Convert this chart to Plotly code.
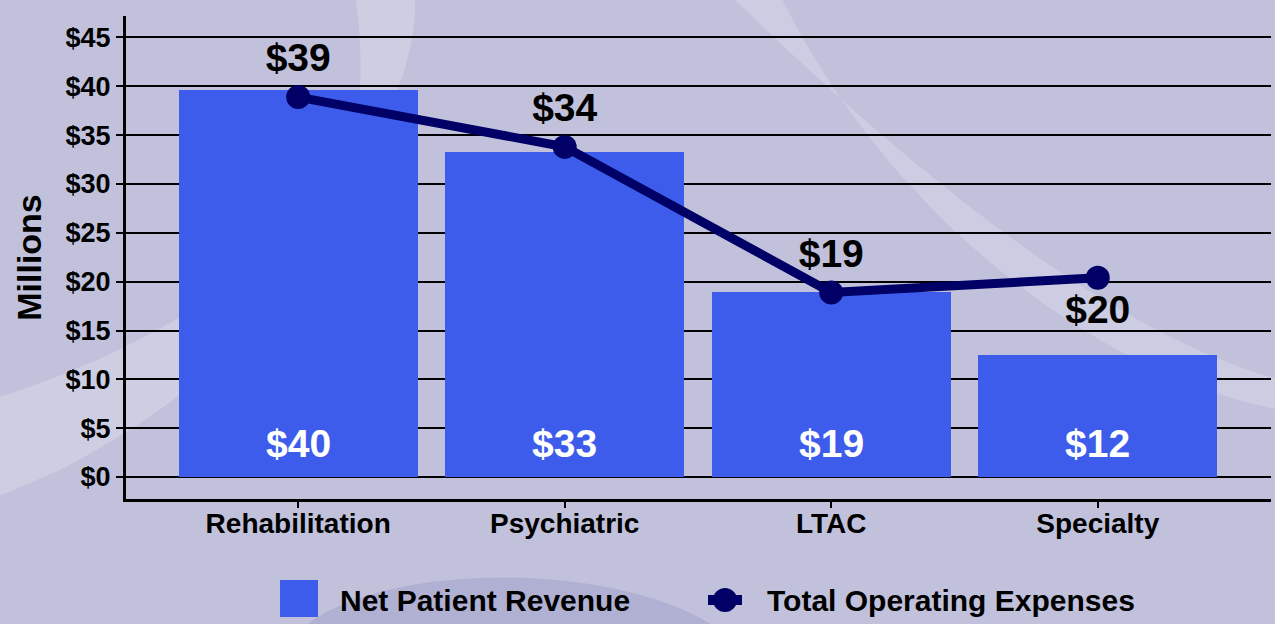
import plotly.graph_objects as go

categories = ["Rehabilitation", "Psychiatric", "LTAC", "Specialty"]
net_revenue = [39.6, 33.3, 18.9, 12.5]
net_revenue_labels = ["$40", "$33", "$19", "$12"]
operating_expenses = [38.9, 33.8, 18.9, 20.4]
expense_labels = ["$39", "$34", "$19", "$20"]
expense_label_pos = ["top center", "top center", "top center", "bottom center"]

FONT = "Liberation Sans"
BG = "#C1C1DB"
BAR = "#3D5CEB"
LINE = "#000066"

# plot area in pixels: x 126..1271, y 16..499
L, R, T, B = 126, 4, 16, 125
W, H = 1275 - L - R, 624 - T - B


def px(x):
    return (x - L) / W


def py(y):
    return (624 - B - y) / H


fig = go.Figure()

fig.add_trace(
    go.Bar(
        x=categories, y=net_revenue,
        marker=dict(color=BAR, line=dict(width=0)),
        width=0.897,
        name="Net Patient Revenue",
        showlegend=False,
        hoverinfo="skip",
    )
)

fig.add_trace(
    go.Scatter(
        x=categories, y=operating_expenses,
        mode="lines+markers+text",
        line=dict(color=LINE, width=9),
        marker=dict(color=LINE, size=24),
        text=expense_labels,
        textposition=expense_label_pos,
        textfont=dict(family=FONT, size=39, color="black", weight="bold"),
        name="Total Operating Expenses",
        showlegend=False,
        hoverinfo="skip",
        cliponaxis=False,
    )
)

# soft background swooshes
shapes = [
    dict(type="path", xref="paper", yref="paper", layer="below",
         path=f"M {px(355)},{py(-5)} C {px(380)},{py(150)} {px(330)},{py(330)} {px(60)},{py(470)} "
              f"L {px(-10)},{py(500)} L {px(-10)},{py(400)} C {px(250)},{py(320)} {px(420)},{py(150)} {px(415)},{py(-5)} Z",
         fillcolor="rgba(225,225,240,0.4)", line=dict(width=0)),
    dict(type="path", xref="paper", yref="paper", layer="below",
         path=f"M {px(730)},{py(-5)} C {px(900)},{py(160)} {px(1100)},{py(330)} {px(1280)},{py(380)} "
              f"L {px(1280)},{py(410)} C {px(1080)},{py(370)} {px(880)},{py(200)} {px(780)},{py(-5)} Z",
         fillcolor="rgba(225,225,240,0.35)", line=dict(width=0)),
    dict(type="path", xref="paper", yref="paper", layer="below",
         path=f"M {px(300)},{py(630)} C {px(380)},{py(560)} {px(620)},{py(560)} {px(720)},{py(630)} Z",
         fillcolor="rgba(150,150,200,0.4)", line=dict(width=0)),
]

# legend drawn by hand to match the large swatches
shapes += [
    dict(type="rect", xref="paper", yref="paper",
         x0=px(280), x1=px(318), y0=py(617), y1=py(580),
         fillcolor=BAR, line=dict(width=0)),
    dict(type="line", xref="paper", yref="paper",
         x0=px(708), x1=px(742), y0=py(600), y1=py(600),
         line=dict(color=LINE, width=10)),
    dict(type="circle", xref="paper", yref="paper",
         x0=px(713), x1=px(737), y0=py(612), y1=py(588),
         fillcolor=LINE, line=dict(width=0)),
]

annotations = [
    dict(text="Net Patient Revenue", xref="paper", yref="paper",
         x=px(338), y=py(600), xanchor="left", yanchor="middle", showarrow=False,
         font=dict(family=FONT, size=30, color="black", weight="bold")),
    dict(text="Total Operating Expenses", xref="paper", yref="paper",
         x=px(765), y=py(600), xanchor="left", yanchor="middle", showarrow=False,
         font=dict(family=FONT, size=30, color="black", weight="bold")),
]

# revenue labels sit near the base of each bar
for cat, lab in zip(categories, net_revenue_labels):
    annotations.append(
        dict(text=lab, x=cat, y=0, xref="x", yref="y",
             yanchor="middle", yshift=34, showarrow=False,
             font=dict(family=FONT, size=39, color="white", weight="bold"))
    )

fig.update_layout(
    width=1275, height=624,
    paper_bgcolor=BG,
    plot_bgcolor="rgba(0,0,0,0)",
    margin=dict(l=L, r=R, t=T, b=B),
    font=dict(family=FONT, color="black"),
    bargap=0,
    shapes=shapes,
    annotations=annotations,
    xaxis=dict(
        range=[-0.646, 3.65],
        showline=True, linecolor="black", linewidth=3,
        ticks="outside", ticklen=6, tickwidth=2, tickcolor="black",
        ticklabelstandoff=-9,
        tickfont=dict(family=FONT, size=28, color="black", weight="bold"),
        showgrid=False, zeroline=False,
    ),
    yaxis=dict(
        range=[-2.25, 47.2],
        tick0=0, dtick=5, tickprefix="$",
        showline=True, linecolor="black", linewidth=3,
        ticks="outside", ticklen=7, tickwidth=2, tickcolor="black",
        tickfont=dict(family=FONT, size=27, color="black", weight="bold"),
        showgrid=True, gridcolor="black", gridwidth=2,
        zeroline=False,
        title=dict(text="Millions", standoff=14,
                   font=dict(family=FONT, size=34, color="black", weight="bold")),
    ),
)

fig.write_html("out.html", config={"displayModeBar": False},
               post_script="document.body.style.margin='0';")
